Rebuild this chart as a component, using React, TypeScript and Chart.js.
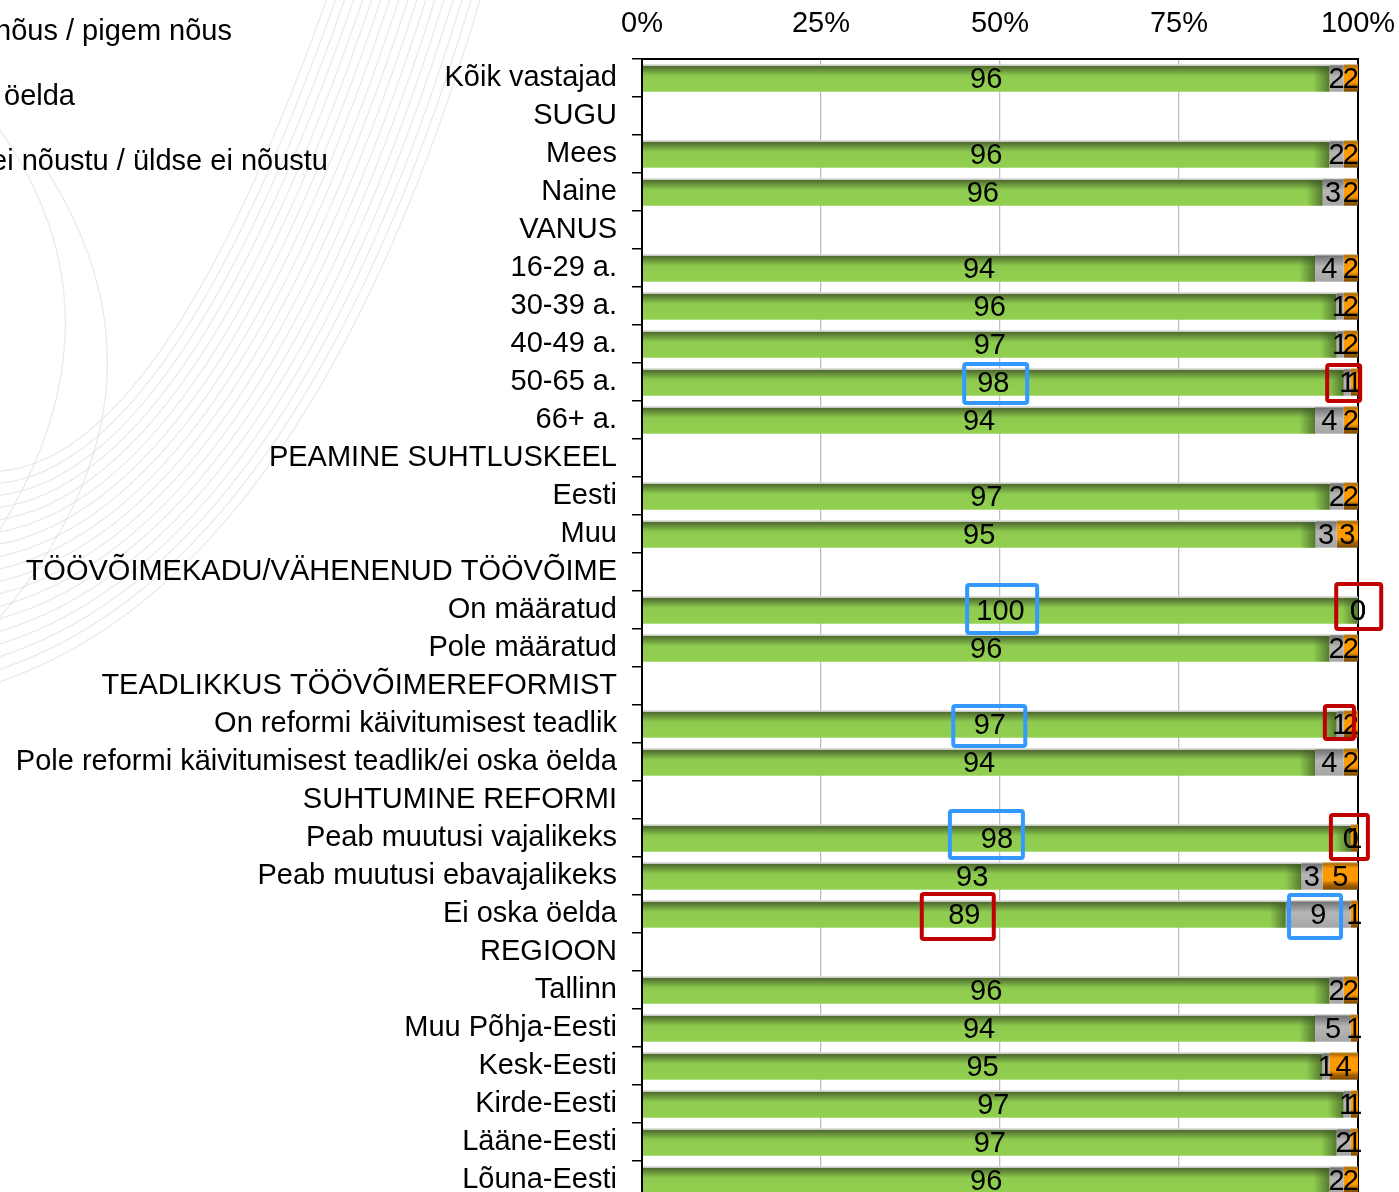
import React, { useEffect, useRef } from "react";
import { Chart, registerables } from "chart.js";

Chart.register(...registerables);

const categories = [
  "Kõik vastajad",
  "SUGU",
  "Mees",
  "Naine",
  "VANUS",
  "16-29 a.",
  "30-39 a.",
  "40-49 a.",
  "50-65 a.",
  "66+ a.",
  "PEAMINE SUHTLUSKEEL",
  "Eesti",
  "Muu",
  "TÖÖVÕIMEKADU/VÄHENENUD TÖÖVÕIME",
  "On määratud",
  "Pole määratud",
  "TEADLIKKUS TÖÖVÕIMEREFORMIST",
  "On reformi käivitumisest teadlik",
  "Pole reformi käivitumisest teadlik/ei oska öelda",
  "SUHTUMINE REFORMI",
  "Peab muutusi vajalikeks",
  "Peab muutusi ebavajalikeks",
  "Ei oska öelda",
  "REGIOON",
  "Tallinn",
  "Muu Põhja-Eesti",
  "Kesk-Eesti",
  "Kirde-Eesti",
  "Lääne-Eesti",
  "Lõuna-Eesti",
];

const seriesNames = [
  "Täiesti nõus / pigem nõus",
  "Ei oska öelda",
  "Pigem ei nõustu / üldse ei nõustu",
];

const agree = [96, null, 96, 96, null, 94, 96, 97, 98, 94, null, 97, 95, null, 100, 96, null, 97, 94, null, 98, 93, 89, null, 96, 94, 95, 97, 97, 96];
const dontKnow = [2, null, 2, 3, null, 4, 1, 1, 1, 4, null, 2, 3, null, 0, 2, null, 1, 4, null, 0, 3, 9, null, 2, 5, 1, 1, 2, 2];
const disagree = [2, null, 2, 2, null, 2, 2, 2, 1, 2, null, 2, 3, null, 0, 2, null, 2, 2, null, 1, 5, 1, null, 2, 1, 4, 1, 1, 2];

const xTickValues = [0, 25, 50, 75, 100];

// highlight boxes (annotation): row, x position in %, size
const highlights = [
  { row: "50-65 a.", at: 49.4, dy: 1.5, w: 63, h: 39, color: "#3399FF" },
  { row: "50-65 a.", at: 98.0, dy: 1, w: 33, h: 36, color: "#C00000" },
  { row: "On määratud", at: 50.3, dy: -1, w: 70, h: 48, color: "#3399FF" },
  { row: "On määratud", at: 100.1, dy: -3.5, w: 45, h: 45, color: "#C00000" },
  { row: "On reformi käivitumisest teadlik", at: 48.5, dy: 2, w: 72, h: 40, color: "#3399FF" },
  { row: "On reformi käivitumisest teadlik", at: 97.4, dy: -1.5, w: 29, h: 33, color: "#C00000" },
  { row: "Peab muutusi vajalikeks", at: 48.1, dy: -3.5, w: 73, h: 47, color: "#3399FF" },
  { row: "Peab muutusi vajalikeks", at: 98.8, dy: -1, w: 37, h: 44, color: "#C00000" },
  { row: "Ei oska öelda", at: 44.1, dy: 2.5, w: 72, h: 45, color: "#C00000" },
  { row: "Ei oska öelda", at: 94.0, dy: 2.5, w: 52, h: 43, color: "#3399FF" },
];

const FONT = '"Liberation Sans", Arial, Helvetica, sans-serif';
const FS = 29;
const W = 1399;
const H = 1215;
const BAR_PCT = 0.72;
const PLOT_LEFT = 642;
const PLOT_RIGHT = 1358;
const PLOT_TOP = 59;
const PLOT_BOTTOM = 1199;

const valueSets = [agree, dontKnow, disagree];

function shares(idx: number): number[] {
  const vals = valueSets.map((s) => s[idx]);
  if (vals.some((v) => v == null)) return [null, null, null] as any;
  const sum = (vals as number[]).reduce((a, b) => a + b, 0);
  return (vals as number[]).map((v) => (v / sum) * 100);
}

const gradients: [number, string][][] = [
  [
    [0, "#d2d4d0"],
    [0.06, "#c6c9c2"],
    [0.08, "#4f6d2e"],
    [0.42, "#8dca4f"],
    [1, "#92D050"],
  ],
  [
    [0, "#d4d4d4"],
    [0.07, "#767676"],
    [0.45, "#b6b6b6"],
    [1, "#a6a6a6"],
  ],
  [
    [0, "#d0a868"],
    [0.06, "#b06c00"],
    [0.22, "#FF9900"],
    [0.66, "#FF9900"],
    [0.82, "#a86400"],
    [1, "#7a4800"],
  ],
];

function makeBg(d: number) {
  const stops = gradients[d];
  return (c: any) => {
    const chart = c.chart;
    const ca = chart.chartArea;
    if (c.type !== "data" || !ca || !chart.scales.y) return stops[stops.length - 1][1];
    const band = (ca.bottom - ca.top) / categories.length;
    const th = band * BAR_PCT;
    const yc = chart.scales.y.getPixelForValue(c.dataIndex);
    const g = chart.ctx.createLinearGradient(0, yc - th / 2, 0, yc + th / 2);
    stops.forEach(([o, col]) => g.addColorStop(o, col));
    return g;
  };
}

const bgPlugin = {
  id: "bgDecor",
  beforeDraw(chart: any) {
    const ctx = chart.ctx;
    ctx.save();
    ctx.fillStyle = "#ffffff";
    ctx.fillRect(0, 0, chart.width, chart.height);
    ctx.strokeStyle = "rgba(205,212,224,0.5)";
    ctx.lineWidth = 1.2;
    for (let k = 0; k < 18; k++) {
      ctx.beginPath();
      ctx.moveTo(330 + k * 9, -10);
      ctx.quadraticCurveTo(150 + k * 9, 500 + k * 6, -30, 470 + k * 13);
      ctx.stroke();
    }
    ctx.beginPath();
    ctx.moveTo(0, 130);
    ctx.quadraticCurveTo(140, 330, -20, 560);
    ctx.stroke();
    ctx.beginPath();
    ctx.moveTo(40, 160);
    ctx.quadraticCurveTo(200, 400, -20, 640);
    ctx.stroke();
    ctx.restore();
  },
};

const overlayPlugin = {
  id: "overlay",
  afterDatasetsDraw(chart: any) {
    const ctx = chart.ctx;
    ctx.save();
    // shading at the right end of green bars
    const m0 = chart.getDatasetMeta(0);
    m0.data.forEach((el: any, i: number) => {
      if (agree[i] == null) return;
      const p = el.getProps(["x", "y", "height"], true);
      const w = 16;
      const g = ctx.createLinearGradient(p.x - w, 0, p.x, 0);
      g.addColorStop(0, "rgba(60,85,35,0)");
      g.addColorStop(1, "rgba(60,85,35,0.7)");
      ctx.fillStyle = g;
      ctx.fillRect(p.x - w, p.y - p.height / 2 + 2, w, p.height - 2);
    });
    // value labels
    ctx.font = `${FS}px ${FONT}`;
    ctx.fillStyle = "#000";
    ctx.textAlign = "center";
    ctx.textBaseline = "middle";
    valueSets.forEach((arr, d) => {
      const meta = chart.getDatasetMeta(d);
      meta.data.forEach((el: any, i: number) => {
        const v = arr[i];
        if (v == null) return;
        const pt = el.getCenterPoint();
        ctx.fillText(String(v), pt.x, pt.y + 2);
      });
    });
    // highlight boxes
    const xs = chart.scales.x;
    const ys = chart.scales.y;
    highlights.forEach((h) => {
      const idx = categories.indexOf(h.row);
      const xc = xs.getPixelForValue(h.at);
      const yc = ys.getPixelForValue(idx) + h.dy;
      ctx.strokeStyle = h.color;
      ctx.lineWidth = 4;
      ctx.beginPath();
      (ctx as any).roundRect(xc - h.w / 2, yc - h.h / 2, h.w, h.h, 2);
      ctx.stroke();
    });
    ctx.restore();
  },
};

function ChartCanvas() {
  const ref = useRef<HTMLCanvasElement | null>(null);
  useEffect(() => {
    if (!ref.current) return;
    const datasets = valueSets.map((_, d) => ({
      label: seriesNames[d],
      data: categories.map((_, i) => shares(i)[d]),
      backgroundColor: makeBg(d),
      borderWidth: 0,
      categoryPercentage: 1,
      barPercentage: BAR_PCT,
      stack: "s",
    }));
    const chart = new Chart(ref.current, {
      type: "bar",
      data: { labels: categories, datasets },
      options: {
        indexAxis: "y",
        responsive: false,
        animation: false,
        layout: { padding: { left: 0, right: W - PLOT_RIGHT, top: 0, bottom: H - PLOT_BOTTOM } },
        plugins: { legend: { display: false }, tooltip: { enabled: false } },
        scales: {
          x: {
            position: "top",
            stacked: true,
            min: 0,
            max: 100,
            afterFit: (s: any) => {
              s.height = PLOT_TOP;
              s.paddingLeft = 0;
              s.paddingRight = 0;
            },
            afterBuildTicks: (s: any) => {
              s.ticks = xTickValues.map((v) => ({ value: v }));
            },
            ticks: {
              callback: (v: any) => `${v}%`,
              font: { size: FS, family: FONT },
              color: "#000",
              padding: 18,
              maxRotation: 0,
            },
            grid: {
              color: (c: any) =>
                c.tick && (c.tick.value === 0 || c.tick.value === 100) ? "#000" : "#BFBFBF",
              lineWidth: (c: any) =>
                c.tick && (c.tick.value === 0 || c.tick.value === 100) ? 2 : 1.3,
              drawTicks: false,
            },
            border: { display: true, color: "#000", width: 2 },
          },
          y: {
            stacked: true,
            afterFit: (s: any) => {
              s.width = PLOT_LEFT;
              s.paddingTop = 0;
              s.paddingBottom = 0;
            },
            ticks: {
              font: { size: FS, family: FONT },
              color: "#000",
              padding: 15,
              autoSkip: false,
            },
            grid: {
              drawOnChartArea: false,
              drawTicks: true,
              tickLength: 10,
              color: "#000",
              lineWidth: 1.5,
              offset: true,
            },
            border: { display: true, color: "#000", width: 2 },
          },
        },
      } as any,
      plugins: [bgPlugin, overlayPlugin],
    });
    return () => chart.destroy();
  }, []);
  return <canvas ref={ref} width={W} height={H} style={{ display: "block" }} />;
}

const legendPos = [
  { right: 232, center: 30 },
  { right: 75, center: 95 },
  { right: 328, center: 160 },
];

export default function App() {
  return (
    <div
      style={{
        position: "fixed",
        left: 0,
        top: 0,
        width: W,
        height: 1192,
        overflow: "hidden",
        background: "#fff",
      }}
    >
      <ChartCanvas />
      {seriesNames.map((name, i) => (
        <div
          key={name}
          style={{
            position: "absolute",
            right: W - legendPos[i].right,
            top: legendPos[i].center - 17,
            height: 34,
            lineHeight: "34px",
            whiteSpace: "nowrap",
            fontFamily: FONT,
            fontSize: FS,
            color: "#000",
          }}
        >
          {name}
        </div>
      ))}
    </div>
  );
}
